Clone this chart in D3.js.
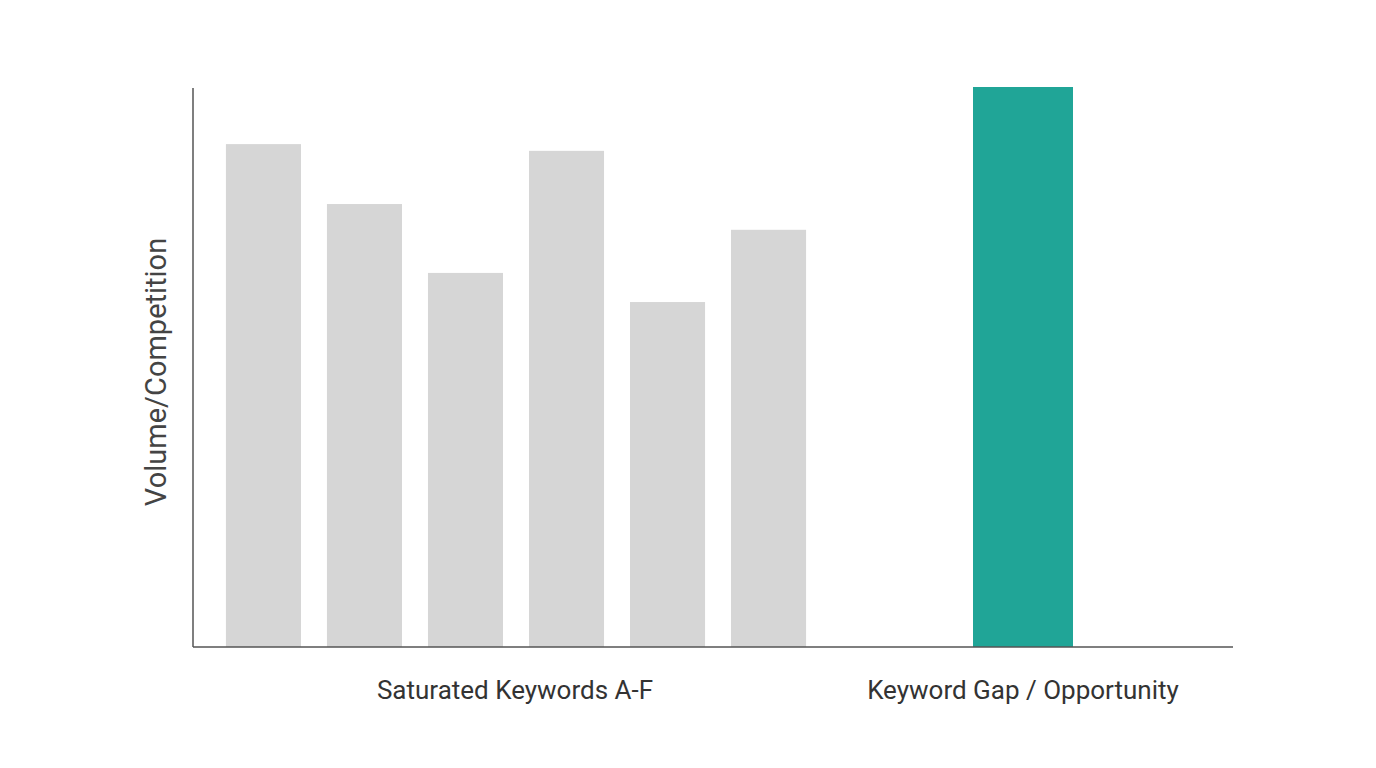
<!DOCTYPE html>
<html><head><meta charset="utf-8">
<script src="https://cdn.jsdelivr.net/npm/d3@7"></script>
<style>body{margin:0;background:#fff}</style></head>
<body><svg id="c" width="1376" height="768"></svg>
<script>
const saturatedKeys = ["A","B","C","D","E","F"];
const saturatedValues = [89.8, 79.1, 66.8, 88.6, 61.6, 74.5];
const gapKeys = ["Gap"];
const gapValues = [100];
const groupLabels = ["Saturated Keywords A-F", "Keyword Gap / Opportunity"];
const yLabel = "Volume/Competition";

const svg = d3.select("#c");
const y = d3.scaleLinear().domain([0,100]).range([647,87]);
const xs = d3.scaleBand().domain(saturatedKeys).range([213,819]).paddingInner(0.257).paddingOuter(0.128);
const xg = d3.scaleBand().domain(gapKeys).range([973,1073]);

svg.selectAll(".s").data(saturatedValues).join("rect")
  .attr("x",(d,i)=>xs(saturatedKeys[i])).attr("width",xs.bandwidth())
  .attr("y",d=>y(d)).attr("height",d=>y(0)-y(d)).attr("fill","#d6d6d6");
svg.selectAll(".g").data(gapValues).join("rect")
  .attr("x",(d,i)=>xg(gapKeys[i])).attr("width",xg.bandwidth())
  .attr("y",d=>y(d)).attr("height",d=>y(0)-y(d)).attr("fill","#20a597");

svg.append("line").attr("x1",193).attr("x2",193).attr("y1",88).attr("y2",647).attr("stroke","#555").attr("stroke-width",1.5);
svg.append("line").attr("x1",193).attr("x2",1233).attr("y1",647).attr("y2",647).attr("stroke","#555").attr("stroke-width",1.5);

const lx = [515, 1023];
groupLabels.forEach((t,i)=>svg.append("text").attr("x",lx[i]).attr("y",699).attr("text-anchor","middle")
  .attr("font-family","Roboto, sans-serif").attr("font-size",26).attr("fill","#333").text(t));
svg.append("text").attr("transform","translate(166,372) rotate(-90)").attr("text-anchor","middle")
  .attr("font-family","Roboto, sans-serif").attr("font-size",29).attr("fill","#444").text(yLabel);
</script></body></html>
